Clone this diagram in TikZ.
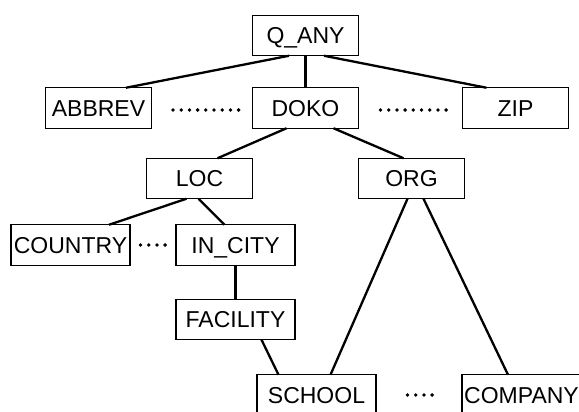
\documentclass[tikz,border=0pt]{standalone}
\usepackage{fontspec}
\setmainfont{Liberation Sans}
\usetikzlibrary{positioning,calc}

\begin{document}
\begin{tikzpicture}[
  x=1pt,y=1pt,
  box/.style={draw,line width=1.1pt,minimum width=106pt,minimum height=40.5pt,inner sep=0pt,outer sep=0pt,
    text height=16.3pt,text depth=0pt,font=\fontsize{23}{27}\selectfont},
  wbox/.style={box,minimum width=119pt},
  link/.style={line width=2.3pt},
  more/.style={line width=3.8pt,line cap=round,dash pattern=on 0pt off 8.2pt}
]
\useasboundingbox (0,0) rectangle (579,-412);
\clip (0,0) rectangle (579,-412);
\node[box] (qany) at (305.5,-35.5) {Q\_ANY};
\node[box,below=32pt of qany] (doko) {DOKO};
\node[box,left=101pt of doko] (abbrev) {ABBREV};
\node[box,right=104pt of doko] (zip) {ZIP};
\node[box,below left=30pt and 0pt of doko] (loc) {LOC};
\node[box,below right=30pt and 0pt of doko] (org) {ORG};
\node[wbox,below=26pt of loc,xshift=36pt] (incity) {IN\_CITY};
\node[wbox,left=46pt of incity] (country) {COUNTRY};
\node[wbox,below=34pt of incity] (facility) {FACILITY};
\node[wbox,below=35pt of facility,xshift=81pt] (school) {SCHOOL};
\node[wbox,right=86pt of school] (company) {COMPANY};
\draw[link] ([xshift=-16.5pt]qany.south) -- ([xshift=27.5pt]abbrev.north);
\draw[link] (qany.south) -- (qany.south |- doko.north);
\draw[link] ([xshift=18.5pt]qany.south) -- ([xshift=-29pt]zip.north);
\draw[link] ([xshift=-19pt]doko.south) -- ([xshift=18pt]loc.north);
\draw[link] ([xshift=28pt]doko.south) -- ([xshift=-8pt]org.north);
\draw[link] ([xshift=-13pt]loc.south) -- ([xshift=38.5pt]country.north);
\draw[link] ([xshift=-1pt]loc.south) -- ([xshift=-11pt]incity.north);
\draw[link] (incity) -- (facility);
\draw[link] ([xshift=26pt]facility.south) -- ([xshift=-38pt]school.north);
\draw[link] ([xshift=-4pt]org.south) -- ([xshift=14pt]school.north);
\draw[link] ([xshift=12pt]org.south) -- ([xshift=-13.5pt]company.north);
% dotted gaps between siblings
\draw[more] ([xshift=21.5pt,yshift=-2pt]abbrev.east) -- ([xshift=-12pt,yshift=-2pt]doko.west);
\draw[more] ([xshift=22pt,yshift=-2pt]doko.east) -- ([xshift=-15pt,yshift=-2pt]zip.west);
\draw[more] ([xshift=10.5pt]country.east) -- ([xshift=-10pt]incity.west);
\draw[more] ([xshift=31.5pt]school.east) -- ([xshift=-29pt]company.west);
\end{tikzpicture}
\end{document}
